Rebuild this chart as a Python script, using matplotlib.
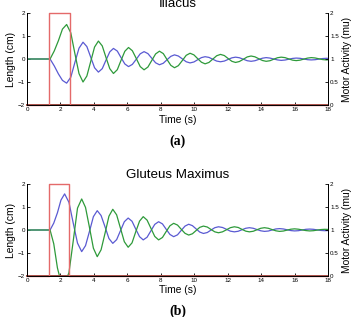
import matplotlib
matplotlib.use("Agg")
import matplotlib.pyplot as plt

# ---------------- data ----------------
t_a = [0, 1.38, 1.63, 1.88, 2.12, 2.37,
       2.62, 2.86, 3.11, 3.35,
       3.58, 3.81, 4.04, 4.27,
       4.5, 4.72, 4.95, 5.17,
       5.4, 5.62, 5.85, 6.07,
       6.3, 6.54, 6.77, 7.0,
       7.23, 7.46, 7.69, 7.92,
       8.15, 8.37, 8.6, 8.82,
       9.05, 9.29, 9.52, 9.75,
       9.98, 10.2, 10.43, 10.65,
       10.88, 11.11, 11.34, 11.57,
       11.8, 12.02, 12.25, 12.47,
       12.7, 12.94, 13.17, 13.4,
       13.63, 13.85, 14.08, 14.3,
       14.53, 14.75, 14.98, 15.2,
       15.43, 15.65, 15.88, 16.1,
       16.33, 16.55, 16.78, 17.0,
       17.23, 17.45, 17.68, 17.9, 18.0]
green_a = [0, 0, 0.35, 0.8, 1.3, 1.5,
           1.135, 0.25, -0.635, -1.0,
           -0.74, -0.11, 0.52, 0.78,
           0.57, 0.075, -0.42, -0.63,
           -0.465, -0.065, 0.335, 0.5,
           0.36, 0.015, -0.33, -0.47,
           -0.35, -0.065, 0.22, 0.34,
           0.235, -0.02, -0.275, -0.38,
           -0.29, -0.065, 0.16, 0.25,
           0.18, 0.02, -0.14, -0.21,
           -0.15, -0.005, 0.14, 0.2,
           0.15, 0.025, -0.1, -0.15,
           -0.11, -0.01, 0.09, 0.13,
           0.095, 0.015, -0.065, -0.1,
           -0.075, -0.01, 0.055, 0.08,
           0.06, 0.005, -0.05, -0.07,
           -0.05, -0.005, 0.04, 0.06,
           0.045, 0.01, -0.025, -0.04, -0.035]
blue_a = [0, 0, -0.3, -0.65, -0.93, -1.05,
          -0.79, -0.16, 0.47, 0.73,
          0.54, 0.08, -0.38, -0.57,
          -0.42, -0.055, 0.31, 0.46,
          0.345, 0.065, -0.215, -0.33,
          -0.235, -0.005, 0.225, 0.32,
          0.235, 0.035, -0.165, -0.25,
          -0.185, -0.035, 0.115, 0.18,
          0.13, 0.005, -0.12, -0.17,
          -0.13, -0.035, 0.06, 0.1,
          0.07, -0.01, -0.09, -0.12,
          -0.09, -0.02, 0.05, 0.08,
          0.055, -0.01, -0.075, -0.1,
          -0.075, -0.02, 0.035, 0.06,
          0.04, 0.0, -0.04, -0.06,
          -0.045, -0.01, 0.025, 0.04,
          0.03, 0.0, -0.03, -0.04,
          -0.03, -0.005, 0.02, 0.03, 0.028]

t_b = [0, 1.38, 1.6, 1.82, 2.03, 2.25,
       2.51, 2.76, 3.02, 3.27,
       3.5, 3.74, 3.97, 4.2,
       4.43, 4.67, 4.9, 5.13,
       5.36, 5.59, 5.82, 6.05,
       6.28, 6.5, 6.73, 6.95,
       7.18, 7.41, 7.64, 7.87,
       8.1, 8.32, 8.55, 8.77,
       9.0, 9.22, 9.45, 9.67,
       9.89, 10.11, 10.33, 10.55,
       10.78, 11.0, 11.23, 11.45,
       11.69, 11.93, 12.16, 12.4,
       12.63, 12.85, 13.08, 13.3,
       13.53, 13.75, 13.98, 14.2,
       14.43, 14.65, 14.88, 15.1,
       15.33, 15.55, 15.78, 16.0,
       16.23, 16.45, 16.68, 16.9,
       17.13, 17.35, 17.58, 17.8, 18.0]
blue_b = [0, 0, 0.3, 0.75, 1.3, 1.57,
          1.2, 0.315, -0.57, -0.94,
          -0.68, -0.05, 0.58, 0.84,
          0.63, 0.13, -0.37, -0.58,
          -0.42, -0.03, 0.36, 0.52,
          0.38, 0.045, -0.29, -0.43,
          -0.315, -0.035, 0.245, 0.36,
          0.265, 0.035, -0.195, -0.29,
          -0.21, -0.02, 0.17, 0.25,
          0.19, 0.05, -0.09, -0.15,
          -0.11, -0.005, 0.1, 0.14,
          0.11, 0.03, -0.05, -0.08,
          -0.055, 0.01, 0.075, 0.1,
          0.075, 0.02, -0.035, -0.06,
          -0.045, 0.0, 0.045, 0.06,
          0.045, 0.01, -0.025, -0.04,
          -0.03, 0.0, 0.03, 0.04,
          0.03, 0.005, -0.02, -0.03, -0.025]
green_b = [0, 0, -0.6, -1.65, -2.25, -2.35,
           -1.85, -0.5, 0.95, 1.35,
           0.98, 0.095, -0.79, -1.16,
           -0.86, -0.13, 0.6, 0.9,
           0.66, 0.075, -0.51, -0.75,
           -0.56, -0.085, 0.385, 0.58,
           0.43, 0.075, -0.28, -0.43,
           -0.325, -0.07, 0.185, 0.29,
           0.215, 0.035, -0.145, -0.22,
           -0.165, -0.025, 0.115, 0.17,
           0.13, 0.025, -0.08, -0.12,
           -0.08, 0.01, 0.1, 0.14,
           0.11, 0.03, -0.05, -0.08,
           -0.055, 0.01, 0.075, 0.1,
           0.075, 0.02, -0.035, -0.06,
           -0.045, -0.005, 0.035, 0.05,
           0.035, 0.005, -0.025, -0.04,
           -0.03, -0.005, 0.02, 0.03, 0.025]

# motor activity (right axis)
t_act_a = [0, 1.33, 1.33, 2.57, 2.57, 18]
act_a = [0, 0, 2, 2, 0, 0]
t_act_b = [0, 1.33, 1.33, 2.49, 2.49, 18]
act_b = [0, 0, 2, 2, 0, 0]
t_base = [0, 18]
act_base = [0, 0]

titles = ["Iliacus", "Gluteus Maximus"]
labels = ["(a)", "(b)"]
xticks = list(range(0, 19, 2))
yticks_left = [-2, -1, 0, 1, 2]
yticks_right = [0, 0.5, 1, 1.5, 2]

# ---------------- drawing ----------------
plt.rcParams['font.family'] = ['Liberation Sans', 'DejaVu Sans']
BLUE = '#5a5ad2'
GREEN = '#2e9a3a'
RED = '#e46a6a'
BROWN = '#9a4a40'

W, H = 355, 317
fig = plt.figure(figsize=(W / 100, H / 100), dpi=100)

panels = [
    (t_a, green_a, blue_a, t_act_a, act_a, 13, 105, 123, 141),
    (t_b, green_b, blue_b, t_act_b, act_b, 184, 276, 293, 311),
]
L, R = 27, 328
for i, (t, g, b, ta, ac, ytop, ybot, ytime, ylab) in enumerate(panels):
    ax = fig.add_axes([L / W, 1 - ybot / H, (R - L) / W, (ybot - ytop) / H])
    ax.plot(t, b, color=BLUE, lw=0.9, zorder=3)
    ax.plot(t, g, color=GREEN, lw=0.9, zorder=3)
    ax.set_xlim(0, 18)
    ax.set_ylim(-2, 2)
    ax.set_xticks(xticks)
    ax.set_yticks(yticks_left)
    ax.set_yticklabels(['\u22122', '\u22121', '0', '1', '2'])
    ax.tick_params(direction='in', length=2.5, width=0.6, labelsize=4.5, pad=1.5)
    ax.set_ylabel("Length (cm)", fontsize=7.4, labelpad=1.5)
    ax.spines['top'].set_visible(False)
    for s in ax.spines.values():
        s.set_linewidth(0.7)
    ax.patch.set_alpha(0)

    ax2 = ax.twinx()
    ax2.plot(t_base, act_base, color=BROWN, lw=1.4, zorder=2, clip_on=False)
    ax2.plot(ta, ac, color=RED, lw=1.0, zorder=2, clip_on=False)
    ax2.set_ylim(0, 2)
    ax2.set_yticks(yticks_right)
    ax2.set_yticklabels(['0', '0.5', '1', '1.5', '2'])
    ax2.tick_params(direction='in', length=2.5, width=0.6, labelsize=4.5, pad=1.5)
    ax2.set_ylabel("Motor Activity (mu)", fontsize=7.4, labelpad=2.5)
    ax2.spines['top'].set_visible(False)
    for s in ax2.spines.values():
        s.set_linewidth(0.7)

    fig.text((L + R) / 2 / W, 1 - (ytop - 6) / H, titles[i], ha='center',
             va='baseline', fontsize=9.6)
    fig.text((L + R) / 2 / W, 1 - ytime / H, "Time (s)", ha='center',
             va='baseline', fontsize=7.4)
    fig.text((L + R) / 2 / W, 1 - ylab / H, labels[i], ha='center',
             va='center', fontsize=10, fontweight='bold',
             family=['Liberation Serif', 'DejaVu Serif'])

fig.savefig("out.png", dpi=100)
